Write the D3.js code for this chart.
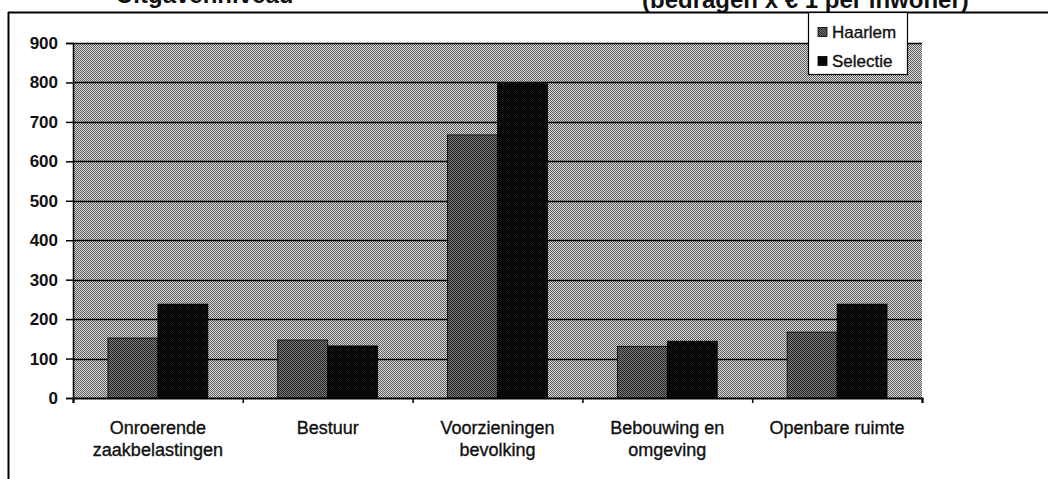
<!DOCTYPE html>
<html>
<head>
<meta charset="utf-8">
<script src="https://cdn.jsdelivr.net/npm/d3@7"></script>
<style>
  body { margin: 0; background: #fff; }
  text { font-family: "Liberation Sans", Arial, sans-serif; fill: #111; }
</style>
</head>
<body>
<script>
  let categories = [["Onroerende", "zaakbelastingen"], ["Bestuur"], ["Voorzieningen", "bevolking"], ["Bebouwing en", "omgeving"], ["Openbare ruimte"]];
  let series = ["Haarlem", "Selectie"];
  let haarlem = [152, 147, 667, 131, 167];
  let selectie = [238, 132, 797, 144, 238];
  let yTicks = [0, 100, 200, 300, 400, 500, 600, 700, 800, 900];

  let width = 1048;
  let height = 479;
  let pLeft = 73, pRight = 922, pTop = 43, pBottom = 398;

  let svg = d3.select("body").append("svg")
    .attr("width", width).attr("height", height);

  // halftone-ish fills like the scan
  let defs = svg.append("defs");
  function checker(id, a, b) {
    let p = defs.append("pattern").attr("id", id)
      .attr("width", 2).attr("height", 2).attr("patternUnits", "userSpaceOnUse");
    p.append("rect").attr("width", 2).attr("height", 2).attr("fill", a);
    p.append("rect").attr("width", 1).attr("height", 1).attr("fill", b);
    p.append("rect").attr("x", 1).attr("y", 1).attr("width", 1).attr("height", 1).attr("fill", b);
  }
  checker("bg", "#dcdcdc", "#5a5a5a");
  checker("hl", "#7a7a7a", "#222");
  checker("sel", "#111", "#000");

  // page frame + titles cut off by the scan
  svg.append("text").attr("x", 116).attr("y", 3)
    .style("font-size", "24px").style("font-weight", "bold")
    .text("Uitgavenniveau");
  svg.append("text").attr("x", 642).attr("y", 8)
    .style("font-size", "24px").style("font-weight", "bold")
    .text("(bedragen x € 1 per inwoner)");
  svg.append("line").attr("x1", 8).attr("x2", width).attr("y1", 12.5).attr("y2", 12.5)
    .attr("stroke", "#000").attr("stroke-width", 2);
  svg.append("line").attr("x1", 8.5).attr("x2", 8.5).attr("y1", 12).attr("y2", height)
    .attr("stroke", "#000").attr("stroke-width", 2);

  let y = d3.scaleLinear([0, 900], [pBottom, pTop]);
  let x0 = d3.scaleBand(d3.range(categories.length), [pLeft, pRight]);
  let x1 = d3.scaleBand(series, [0, x0.bandwidth()]).paddingOuter(0.7).paddingInner(0);

  svg.append("rect").attr("x", pLeft).attr("y", pTop)
    .attr("width", pRight - pLeft).attr("height", pBottom - pTop)
    .attr("fill", "url(#bg)");

  svg.append("g")
    .selectAll("line")
    .data(yTicks.slice(1))
    .enter()
    .append("line")
    .attr("x1", pLeft).attr("x2", pRight)
    .attr("y1", d => Math.round(y(d)) + 0.5).attr("y2", d => Math.round(y(d)) + 0.5)
    .attr("stroke", "#000").attr("stroke-width", 1.4);

  let fills = { Haarlem: "url(#hl)", Selectie: "url(#sel)" };
  let rows = categories.map((c, i) => [
    { s: "Haarlem", v: haarlem[i], i: i },
    { s: "Selectie", v: selectie[i], i: i }
  ]).flat();

  svg.append("g")
    .selectAll("rect")
    .data(rows)
    .enter()
    .append("rect")
    .attr("x", d => x0(d.i) + x1(d.s))
    .attr("y", d => y(d.v))
    .attr("width", x1.bandwidth())
    .attr("height", d => pBottom - y(d.v))
    .attr("fill", d => fills[d.s])
    .attr("stroke", "#000").attr("stroke-width", 0.8);

  let yAxis = svg.append("g")
    .attr("transform", "translate(" + pLeft + ",0)")
    .call(d3.axisLeft(y).tickValues(yTicks).tickSize(7).tickPadding(8));
  yAxis.select(".domain").attr("stroke", "#000").attr("stroke-width", 1.5);
  yAxis.selectAll(".tick line").attr("stroke-width", 1.5);
  yAxis.selectAll("text").style("font-size", "17px").style("font-weight", "bold")
    .attr("font-family", null).attr("fill", "#111");

  let xAxis = svg.append("g")
    .attr("transform", "translate(0," + pBottom + ")")
    .call(d3.axisBottom(d3.scaleLinear([0, 5], [pLeft, pRight])).ticks(5).tickSize(5).tickFormat(""));
  xAxis.select(".domain").attr("stroke", "#000").attr("stroke-width", 2);
  xAxis.selectAll(".tick line").attr("stroke-width", 1.5);

  svg.append("g")
    .selectAll("text")
    .data(categories)
    .enter()
    .append("text")
    .attr("text-anchor", "middle")
    .attr("x", (d, i) => x0(i) + x0.bandwidth() / 2)
    .attr("y", 434)
    .style("font-size", "18px")
    .attr("stroke", "#111").attr("stroke-width", 0.35)
    .selectAll("tspan")
    .data(d => d)
    .enter()
    .append("tspan")
    .attr("x", function () { return this.parentNode.getAttribute("x"); })
    .attr("dy", (d, i) => i === 0 ? 0 : 22)
    .text(d => d);

  // legend
  let lg = svg.append("g");
  lg.append("rect").attr("x", 808.5).attr("y", 12.5).attr("width", 99).attr("height", 62)
    .attr("fill", "#fff").attr("stroke", "#000").attr("stroke-width", 1.2);
  lg.selectAll("g")
    .data(series)
    .enter()
    .append("g")
    .attr("transform", (d, i) => "translate(818," + (32 + i * 29) + ")")
    .each(function (d) {
      let g = d3.select(this);
      g.append("rect").attr("width", 9).attr("height", 9).attr("y", -4.5)
        .attr("fill", fills[d]).attr("stroke", "#000").attr("stroke-width", 0.8);
      g.append("text").attr("x", 14).attr("y", 6).style("font-size", "17px")
        .attr("stroke", "#111").attr("stroke-width", 0.35).text(d);
    });
</script>
</body>
</html>
